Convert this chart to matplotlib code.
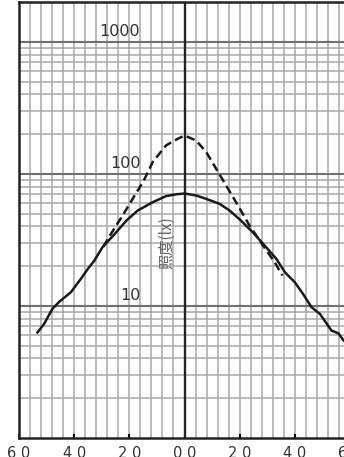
import numpy as np
import matplotlib
matplotlib.use('Agg')
import matplotlib.pyplot as plt
from matplotlib.ticker import NullFormatter, NullLocator

# 角度 (°) と照度 (lx)
solid_x = [-53.3, -50.9, -47.9, -45.5, -41.2, -37.6, -35.1, -32.7, -29.7, -24.8,
           -21.2, -17.0, -11.5, -6.7, -3.0, 0.0, 4.2, 7.9, 12.7, 16.4, 20.6, 24.8,
           29.1, 33.3, 36.4, 40.0, 43.0, 46.0, 49.1, 53.3, 55.8, 57.6, 60.0]
solid_y = [6.3, 7.3, 9.5, 10.7, 12.7, 16.0, 19.0, 22.0, 27.9, 36.0,
           44.0, 52.7, 61.0, 67.8, 70.0, 71.0, 68.6, 64.6, 59.3, 52.7, 44.0, 36.0,
           28.6, 22.7, 18.0, 15.1, 12.3, 9.8, 8.7, 6.5, 6.2, 5.5, 5.0]

dashed_x = [-29.5, -26.0, -22.0, -18.0, -15.0, -11.5, -6.7, -3.6, 0.0,
            4.2, 7.9, 11.5, 15.1, 19.4, 23.6, 28.5, 32.7, 35.5]
dashed_y = [28, 37, 50, 69, 87, 123, 164, 179, 195,
            179, 146, 109, 81.5, 57.5, 40.5, 28.6, 21.4, 17]

x_ticks = [-60, -40, -20, 0, 20, 40, 60]
x_tick_labels = ['6 0', '4 0', '2 0', '0 0', '2 0', '4 0', '6 0']
y_decades = [10, 100, 1000]
y_decade_labels = ['10', '100', '1000']

fig = plt.figure(figsize=(3.44, 4.57), dpi=100)
ax = fig.add_axes([19 / 344, 19 / 457, 331 / 344, 436 / 457])

ax.set_xlim(-60, 60)
ax.set_yscale('log')
ax.set_ylim(1, 2000)

# 方眼
for gx in np.arange(-56, 60, 4):
    ax.axvline(gx, color='#a8a8a8', lw=1.1, zorder=1)
for dec in [1, 10, 100, 1000]:
    for m in range(2, 10):
        if dec * m < 2000:
            ax.axhline(dec * m, color='#a8a8a8', lw=1.1, zorder=1)
for v in y_decades:
    ax.axhline(v, color='#707070', lw=1.5, zorder=1)
ax.axvline(0, color='#222222', lw=1.7, zorder=2)

# 曲線
ax.plot(solid_x, solid_y, color='#1a1a1a', lw=1.8, zorder=3)
ax.plot(dashed_x, dashed_y, color='#1a1a1a', lw=1.8, dashes=(3.4, 1.8), zorder=3)

# 縦軸の目盛り値（グラフ内）
for v, lab in zip(y_decades, y_decade_labels):
    ax.text(-16.0, v * 1.05, lab, ha='right', va='bottom', fontsize=11.5,
            color='#333333', family='DejaVu Sans', zorder=4)

ax.text(-6.5, 30, '照度(lx)', rotation=90, ha='center', va='center', fontsize=11,
        color='#666666', family=['Noto Sans CJK JP', 'DejaVu Sans'], zorder=4)

ax.set_xticks(x_ticks)
ax.set_xticklabels(x_tick_labels)
ax.xaxis.set_minor_locator(NullLocator())
ax.tick_params(axis='x', direction='in', length=3, width=1.5, pad=6,
               labelsize=10.5, labelcolor='#333333')
ax.yaxis.set_major_locator(NullLocator())
ax.yaxis.set_minor_locator(NullLocator())
ax.yaxis.set_major_formatter(NullFormatter())

for sp in ax.spines.values():
    sp.set_linewidth(1.8)
    sp.set_color('#222222')
    sp.set_zorder(5)

fig.savefig('out.png', dpi=100)
